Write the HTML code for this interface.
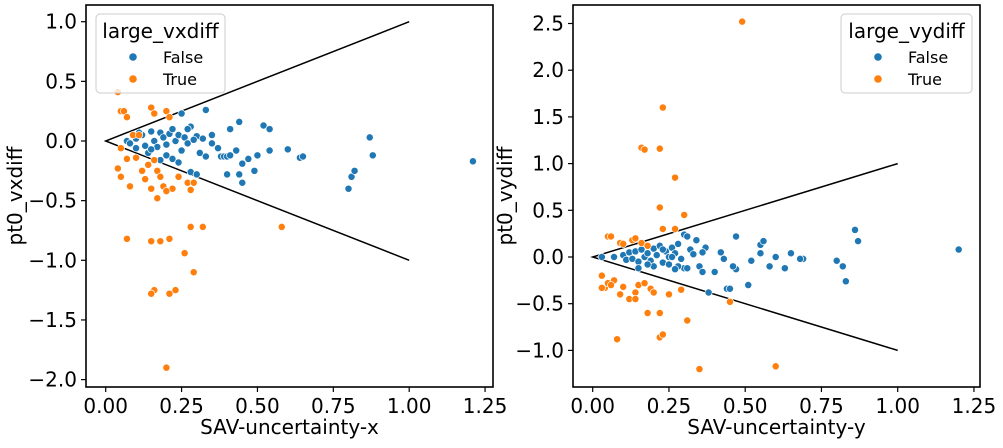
<!DOCTYPE html>
<html><head><meta charset="utf-8"><style>
body{margin:0;background:#fff;}
svg{font-family:"DejaVu Sans","Liberation Sans",sans-serif;}
</style></head><body>
<svg id="c" width="1003" height="443"></svg>
<script>
const leftBlue=[[0.25,0.23],[0.33,0.26],[0.44,0.16],[0.52,0.13],[0.54,0.10],[0.41,0.10],[0.28,0.12],[0.07,0.0],[0.08,-0.02],[0.10,0.02],[0.12,0.05],[0.13,-0.04],[0.15,0.08],[0.16,0.0],[0.17,-0.05],[0.18,0.07],[0.19,0.03],[0.20,-0.03],[0.21,0.06],[0.22,0.10],[0.23,0.0],[0.24,0.05],[0.25,-0.08],[0.26,0.03],[0.27,-0.02],[0.30,0.04],[0.31,-0.1],[0.32,0.02],[0.33,-0.13],[0.35,0.05],[0.38,-0.13],[0.39,-0.13],[0.40,-0.13],[0.41,-0.12],[0.43,-0.08],[0.45,-0.19],[0.47,-0.15],[0.49,-0.25],[0.50,-0.12],[0.54,-0.08],[0.60,-0.07],[0.64,-0.14],[0.65,-0.13],[0.28,-0.26],[0.30,-0.28],[0.40,-0.28],[0.44,-0.28],[0.45,-0.35],[0.37,-0.06],[0.29,0.01],[0.10,-0.06],[0.14,-0.10],[0.20,-0.12],[0.22,-0.15],[0.24,-0.18],[0.15,-0.07],[0.80,-0.40],[0.81,-0.30],[0.82,-0.25],[0.87,0.03],[0.88,-0.12],[1.21,-0.17],[0.18,-0.16],[0.35,-0.02],[0.27,0.1],[0.11,0.07]];
const leftOrange=[[0.04,0.41],[0.05,0.25],[0.06,0.25],[0.07,0.2],[0.15,0.28],[0.16,0.23],[0.20,0.25],[0.21,0.2],[0.09,0.05],[0.11,0.05],[0.05,-0.06],[0.04,-0.23],[0.05,-0.3],[0.07,-0.15],[0.10,-0.14],[0.12,-0.25],[0.13,-0.32],[0.14,-0.20],[0.16,-0.16],[0.17,-0.25],[0.18,-0.3],[0.19,-0.38],[0.22,-0.40],[0.24,-0.3],[0.27,-0.35],[0.08,-0.38],[0.15,-0.40],[0.17,-0.48],[0.20,-0.42],[0.28,-0.41],[0.07,-0.82],[0.15,-0.84],[0.18,-0.84],[0.21,-0.82],[0.28,-0.72],[0.32,-0.72],[0.58,-0.72],[0.26,-0.94],[0.29,-1.1],[0.16,-1.25],[0.15,-1.28],[0.21,-1.28],[0.23,-1.25],[0.20,-1.90],[0.29,-0.35]];
const rightBlue=[[1.2,0.08],[0.86,0.29],[0.87,0.17],[0.80,-0.04],[0.82,-0.1],[0.83,-0.26],[0.69,-0.02],[0.68,-0.02],[0.65,0.04],[0.55,0.13],[0.56,0.17],[0.55,0.04],[0.47,0.22],[0.44,-0.34],[0.45,-0.34],[0.38,-0.38],[0.51,-0.3],[0.40,-0.16],[0.37,0.1],[0.36,0.05],[0.42,0.05],[0.47,-0.13],[0.52,-0.04],[0.60,0.0],[0.58,-0.1],[0.63,-0.12],[0.46,-0.1],[0.43,-0.02],[0.03,0.0],[0.07,0.0],[0.10,0.02],[0.11,-0.03],[0.12,0.05],[0.13,-0.02],[0.14,0.06],[0.15,-0.05],[0.16,0.08],[0.17,0.0],[0.18,0.04],[0.19,-0.04],[0.20,0.09],[0.21,0.02],[0.22,0.12],[0.23,-0.06],[0.24,0.06],[0.25,0.0],[0.26,0.1],[0.27,0.04],[0.28,0.14],[0.29,-0.02],[0.30,0.24],[0.31,0.22],[0.32,0.08],[0.33,0.03],[0.34,0.18],[0.35,-0.1],[0.36,-0.16],[0.30,-0.12],[0.28,-0.1],[0.25,-0.08],[0.20,-0.1],[0.15,-0.12],[0.18,-0.08],[0.27,-0.13],[0.31,-0.12],[0.23,0.08],[0.26,0.0]];
const rightOrange=[[0.49,2.52],[0.23,1.6],[0.16,1.17],[0.17,1.15],[0.22,1.16],[0.27,0.85],[0.22,0.53],[0.30,0.45],[0.27,0.3],[0.23,0.3],[0.05,0.22],[0.06,0.22],[0.09,0.15],[0.10,0.14],[0.13,0.18],[0.14,0.2],[0.16,0.15],[0.18,0.12],[0.03,-0.2],[0.04,-0.33],[0.05,-0.28],[0.07,-0.25],[0.09,-0.4],[0.10,-0.32],[0.12,-0.45],[0.14,-0.38],[0.15,-0.3],[0.17,-0.28],[0.19,-0.34],[0.20,-0.38],[0.22,-0.6],[0.25,-0.4],[0.29,-0.35],[0.31,-0.68],[0.18,-0.6],[0.08,-0.88],[0.22,-0.86],[0.23,-0.83],[0.35,-1.2],[0.60,-1.17],[0.45,-0.48],[0.14,-0.45],[0.03,-0.33],[0.06,-0.3]];
const xTicks=[0,0.25,0.5,0.75,1.0,1.25];
const xTickLabels=["0.00","0.25","0.50","0.75","1.00","1.25"];
const leftYTicks=[1.0,0.5,0,-0.5,-1.0,-1.5,-2.0];
const leftYLabels=["1.0","0.5","0.0","\u22120.5","\u22121.0","\u22121.5","\u22122.0"];
const rightYTicks=[2.5,2.0,1.5,1.0,0.5,0,-0.5,-1.0];
const rightYLabels=["2.5","2.0","1.5","1.0","0.5","0.0","\u22120.5","\u22121.0"];
const cone=[[1,1],[0,0],[1,-1]];

const svg=document.getElementById('c');const NS='http://www.w3.org/2000/svg';
function mk(t,a,p){const e=document.createElementNS(NS,t);for(const k in a)e.setAttribute(k,a[k]);(p||svg).appendChild(e);return e;}
function panel(o){
  const g=mk('g',{});
  
  
  const X=v=>o.x0+v*o.xs, Y=v=>o.y0-v*o.ys;
  const ln=mk('polyline',{points:cone.map(p=>X(p[0])+','+Y(p[1])).join(' '),fill:'none',stroke:'#000','stroke-width':1.5},g);
  
  
  [[o.blue,'#1f77b4','false-point'],[o.orange,'#ff7f0e','true-point']].forEach(s=>{
    s[0].forEach(p=>{const c=mk('circle',{cx:X(p[0]),cy:Y(p[1]),r:3.6,fill:s[1],stroke:'#fff','stroke-width':0.7},g);
      
      });
  });
  const fr=mk('rect',{x:o.L,y:o.T,width:o.R-o.L,height:o.B-o.T,fill:'none',stroke:'#000','stroke-width':1.6},g);
  
  
  xTicks.forEach((v,i)=>{mk('line',{x1:X(v),x2:X(v),y1:o.B,y2:o.B+5,stroke:'#000','stroke-width':1.2},g);
    const t=mk('text',{x:X(v),y:o.B+26,'font-size':20,'text-anchor':'middle'},g);t.textContent=xTickLabels[i];
    
    });
  o.yt.forEach((v,i)=>{mk('line',{x1:o.L-5,x2:o.L,y1:Y(v),y2:Y(v),stroke:'#000','stroke-width':1.2},g);
    const t=mk('text',{x:o.L-9,y:Y(v)+7,'font-size':20,'text-anchor':'end'},g);t.textContent=o.yl[i];
    
    });
  const xt=mk('text',{x:(o.L+o.R)/2,y:434,'font-size':20,'text-anchor':'middle'},g);xt.textContent=o.xlab;
  
  
  const yt=mk('text',{x:0,y:0,'font-size':20,'text-anchor':'middle',transform:`translate(${o.ylx},${(o.T+o.B)/2}) rotate(-90)`},g);yt.textContent=o.ylab;
  
  
  const lg=mk('g',{},g);
  
  
  mk('rect',{x:o.lx,y:14,width:o.lw,height:79,rx:4,fill:'#fff','fill-opacity':0.8,stroke:'#ccc'},lg);
  const lt=mk('text',{x:o.lx+o.lw/2,y:38,'font-size':20,'text-anchor':'middle'},lg);lt.textContent=o.ltitle;
  [['False','#1f77b4',57],['True','#ff7f0e',79]].forEach(e=>{
    const eg=mk('g',{},lg);
    
    
    mk('circle',{cx:o.lx+37,cy:e[2],r:3.8,fill:e[1]},eg);
    const t=mk('text',{x:o.lx+67,y:e[2]+6,'font-size':16},eg);t.textContent=e[0];
  });
}
panel({name:'left-panel',L:86,R:493,T:5,B:387,x0:105.7,xs:303.5,y0:141,ys:119.3,blue:leftBlue,orange:leftOrange,yt:leftYTicks,yl:leftYLabels,xlab:'SAV-uncertainty-x',ylab:'pt0_vxdiff',ylx:22,lx:96,lw:129,ltitle:'large_vxdiff'});
panel({name:'right-panel',L:573,R:980,T:5,B:387,x0:592.7,xs:305,y0:257,ys:93.4,blue:rightBlue,orange:rightOrange,yt:rightYTicks,yl:rightYLabels,xlab:'SAV-uncertainty-y',ylab:'pt0_vydiff',ylx:512,lx:841,lw:131,ltitle:'large_vydiff'});
</script>
</body></html>
